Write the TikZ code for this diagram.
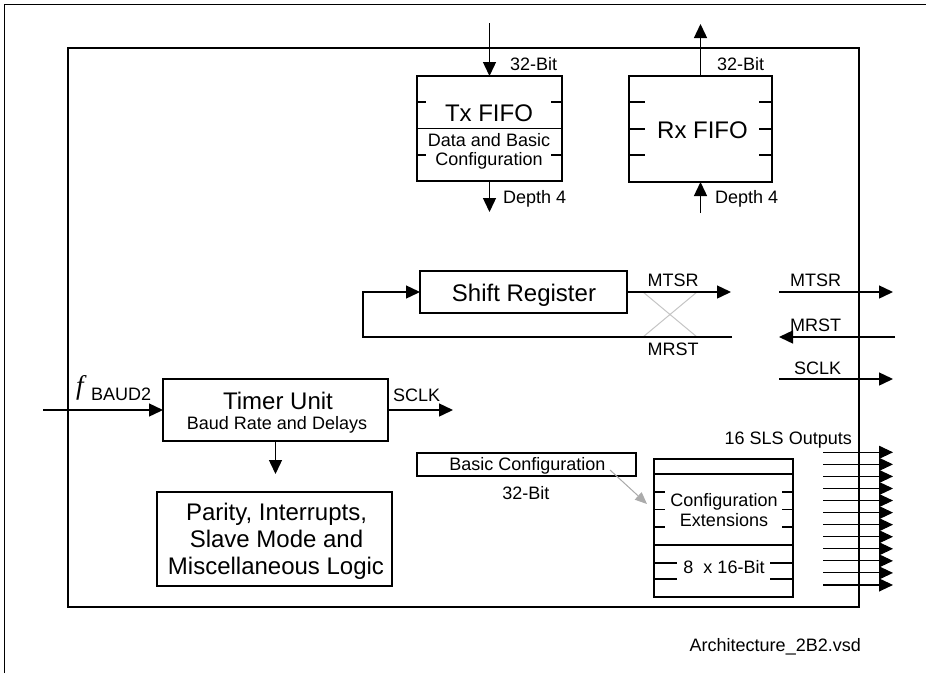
\documentclass[tikz,border=0pt]{standalone}
\usepackage{fontspec}
\setmainfont{Liberation Sans}
\newfontfamily\serifitfont{Liberation Serif}
\usetikzlibrary{arrows.meta}
\definecolor{xgray}{HTML}{C4C4C4}
\definecolor{agray}{HTML}{ABABAB}
\begin{document}
\begin{tikzpicture}[x=1pt,y=-1pt,
  box/.style={draw, line width=1.6pt, inner sep=0pt, outer sep=0pt},
  arr/.style={line width=1.4pt, -{Triangle[length=14pt,width=13pt]}},
  tick/.style={line width=1.4pt},
  sls/.style={line width=1.1pt, -{Triangle[length=14pt,width=13pt]}},
  xline/.style={line width=1pt, draw=xgray},
  grayarr/.style={line width=1pt, draw=agray, fill=agray, -{Triangle[length=12pt,width=10pt]}},
  small/.style={font=\fontsize{18}{20}\selectfont, inner sep=0pt},
  big/.style={font=\fontsize{24}{27}\selectfont, inner sep=0pt},
]
\useasboundingbox (0,0) rectangle (926,673);

% page frame and block frame
\draw[line width=1pt] (4.5,673) -- (4.5,4.5) -- (926,4.5);
\draw[line width=2pt] (68,47.5) rectangle (859,607);

% ---- Tx FIFO ----
\node[box, minimum width=145pt, minimum height=105pt] (tx) at (489.5,128.5) {};
\draw[tick] (417,128.7) -- (562,128.7);
\draw[tick] (417,102) -- ++(9,0) (417,155) -- ++(9,0);
\draw[tick] (562,102) -- ++(-11,0) (562,155) -- ++(-11,0);
\node[big, anchor=base] (txt) at (489,121) {Tx FIFO};
\node[small, anchor=base] (txd1) at (489,146.7) {Data and Basic};
\node[small, anchor=base] (txd2) at (489,165.7) {Configuration};
\coordinate (txin) at (489.5,23);
\coordinate (txout) at (489.5,212);
\draw[arr] (txin) -- (tx.north);
\draw[arr] (tx.south) -- (txout);
\node[small, anchor=base west] (txb) at (510,70.5) {32-Bit};
\node[small, anchor=base west] (txdp) at (503,203.5) {Depth 4};

% ---- Rx FIFO ----
\node[box, minimum width=143pt, minimum height=106pt] (rx) at (700.5,129) {};
\foreach \yy in {102,129,155}{
  \draw[tick] (629,\yy) -- ++(16,0);
  \draw[tick] (772,\yy) -- ++(-13,0);
}
\node[big, anchor=base] (rxt) at (702.5,138) {Rx FIFO};
\coordinate (rxout) at (700.5,24);
\coordinate (rxin) at (700.5,213);
\draw[arr] (rx.north) -- (rxout);
\draw[arr] (rxin) -- (rx.south);
\node[small, anchor=base west] (rxb) at (717,70.5) {32-Bit};
\node[small, anchor=base west] (rxdp) at (715,203.5) {Depth 4};

% ---- Shift register ----
\draw[xline] (643,292) -- (697,337) (643,337) -- (697,292);
\node[box, minimum width=207pt, minimum height=42pt] (sr) at (523.5,292) {};
\node[big, anchor=base] (srt) at (524,301.7) {Shift Register};
\coordinate (mtsrend) at (731,292);
\coordinate (fbstart) at (732,337);
\coordinate (fbx) at (363,337);
\draw[arr] (sr.east) -- (mtsrend);
\draw[arr] (fbstart) -- (fbx) |- (sr.west);
\node[small, anchor=base] (mtsri) at (673,286.5) {MTSR};
\node[small, anchor=base] (mrsti) at (673,355) {MRST};

% ---- pins ----
\coordinate (pmtsrA) at (779,292); \coordinate (pmtsrB) at (893,292);
\coordinate (pmrstA) at (895,337); \coordinate (pmrstB) at (779,337);
\coordinate (psclkA) at (779,379); \coordinate (psclkB) at (893,379);
\draw[arr] (pmtsrA) -- (pmtsrB);
\draw[arr] (pmrstA) -- (pmrstB);
\draw[arr] (psclkA) -- (psclkB);
\node[small, anchor=base west] (mtsro) at (790,286.5) {MTSR};
\node[small, anchor=base west] (mrsto) at (790,331.5) {MRST};
\node[small, anchor=base west] (sclko) at (794,374) {SCLK};

% ---- Timer unit ----
\node[box, minimum width=225pt, minimum height=62pt] (timer) at (275.5,410) {};
\node[big, anchor=base] (tmt) at (278,409) {Timer Unit};
\node[small, anchor=base] (tmb) at (277,429.3) {Baud Rate and Delays};
\coordinate (fin) at (43,410);
\coordinate (sclkend) at (453,410);
\coordinate (pdown) at (275.5,474);
\draw[arr] (fin) -- (timer.west);
\draw[arr] (timer.east) -- (sclkend);
\draw[arr] (timer.south) -- (pdown);
\node[inner sep=0pt, anchor=base west, font=\serifitfont\itshape\fontsize{27}{27}\selectfont] (fsym) at (76,394) {f};
\node[small, anchor=base west] (fsub) at (91,400) {BAUD2};
\node[small, anchor=base west] (sclki) at (393,401.5) {SCLK};

% ---- Parity ----
\node[box, minimum width=235pt, minimum height=94pt] (parity) at (274.5,539) {};
\node[big, anchor=base] (p1) at (276.5,520) {Parity, Interrupts,};
\node[big, anchor=base] (p2) at (276.5,547.3) {Slave Mode and};
\node[big, anchor=base] (p3) at (276,574) {Miscellaneous Logic};

% ---- Basic configuration ----
\node[box, minimum width=219pt, minimum height=23pt] (basic) at (526.5,464.5) {};
\node[small, anchor=base] (bct) at (527.5,470.5) {Basic Configuration};
\node[small, anchor=base] (bcb) at (525.8,499.3) {32-Bit};
\coordinate (ga1) at (610,470);
\coordinate (ga2) at (647,504);
\draw[grayarr] (ga1) -- (ga2);

% ---- Configuration extensions ----
\node[box, minimum width=139pt, minimum height=138pt] (cfg) at (723.5,528) {};
\draw[tick] (654,474) -- (793,474) (654,545) -- (793,545);
\foreach \yy in {492,509.5,527}{
  \draw[tick] (654,\yy) -- ++(11,0);
  \draw[tick] (793,\yy) -- ++(-11,0);
}
\foreach \yy in {563,579}{
  \draw[tick] (654,\yy) -- ++(23,0);
  \draw[tick] (793,\yy) -- ++(-23,0);
}
\node[small, anchor=base] (cf1) at (724,506.7) {Configuration};
\node[small, anchor=base] (cf2) at (724,526) {Extensions};
\node[small, anchor=base] (cf3) at (724,573.3) {8\ \ x 16-Bit};

% ---- SLS outputs ----
\node[small, anchor=base east] (slst) at (852,444) {16 SLS Outputs};
\foreach \i in {0,...,11}{
  \draw[sls] (823,{452.3+12.06*\i}) -- (893,{452.3+12.06*\i});
}

% ---- footer ----
\node[small, anchor=base east] (foot) at (861,651) {Architecture\_2B2.vsd};
\end{tikzpicture}
\end{document}
